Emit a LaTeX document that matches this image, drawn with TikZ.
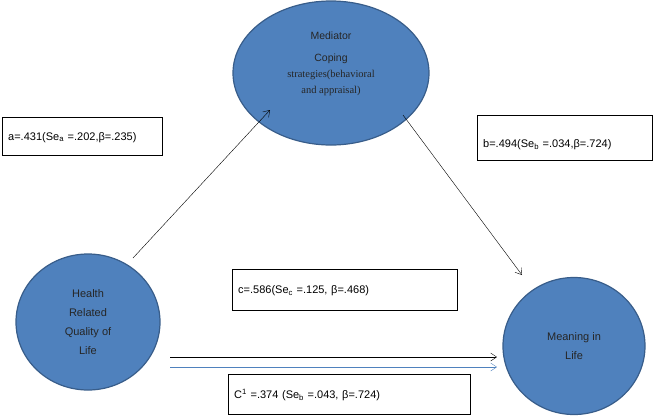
\documentclass[tikz,border=0pt]{standalone}
\usepackage{fontspec}
\setmainfont{Liberation Sans}
\newfontfamily\serifx{Liberation Serif}
\usetikzlibrary{shapes.geometric,arrows.meta}
\definecolor{blu}{HTML}{4F81BD}
\definecolor{blud}{HTML}{385D8A}
\tikzset{
 ell/.style={ellipse,draw=blud,line width=1.2pt,fill=blu,align=center,font=\fontsize{11}{19}\selectfont,text=black!85},
 lbl/.style={draw,fill=white,anchor=north west,font=\fontsize{11}{12}\selectfont,inner sep=6pt,text depth=0pt,align=left,text width=#1}
}
\begin{document}
\begin{tikzpicture}[x=1pt,y=-1pt,arr/.style={-{Straight Barb[length=6pt,width=8pt]},thin}]
\useasboundingbox (0,0) rectangle (656,416);
\node[ell,minimum width=196pt,minimum height=144pt,font=\fontsize{10.5}{16}\selectfont] (med) at (331,73) {Mediator\\[6pt]Coping\\{\serifx strategies(behavioral}\\{\serifx and appraisal)}\\[4pt]};
\node[ell,minimum width=144pt,minimum height=136pt] (hr) at (88,322) {Health\\Related\\Quality of\\Life};
\node[ell,minimum width=142pt,minimum height=137pt] (mil) at (574,346) {Meaning in\\Life};
\node[lbl=148pt,minimum height=38pt] (a) at (2,117) {a=.431(Se\textsubscript{a} =.202,β=.235)\\[12pt]};
\node[lbl=163pt,minimum height=45pt] (b) at (477,115) {\\[-2pt]b=.494(Se\textsubscript{b} =.034,β=.724)\\[6pt]};
\node[lbl=213pt,minimum height=41pt] (c) at (232,269) {c=.586(Se\textsubscript{c} =.125, β=.468)\\[14pt]};
\node[lbl=230pt,minimum height=40pt] (c1) at (228,374) {C\textsuperscript{1} =.374 (Se\textsubscript{b} =.043, β=.724)\\[12pt]};
\coordinate (s1) at (133,258); \coordinate (e1) at (270,110);
\coordinate (s2) at (403,115); \coordinate (e2) at (522,275);
\coordinate (s3) at (170,357); \coordinate (e3) at (497,357);
\coordinate (s4) at (170,367); \coordinate (e4) at (497,367);
\draw[arr] (s1) -- (e1);
\draw[arr] (s2) -- (e2);
\draw[arr] (s3) -- (e3);
\draw[arr,draw=blu] (s4) -- (e4);
\end{tikzpicture}
\end{document}
